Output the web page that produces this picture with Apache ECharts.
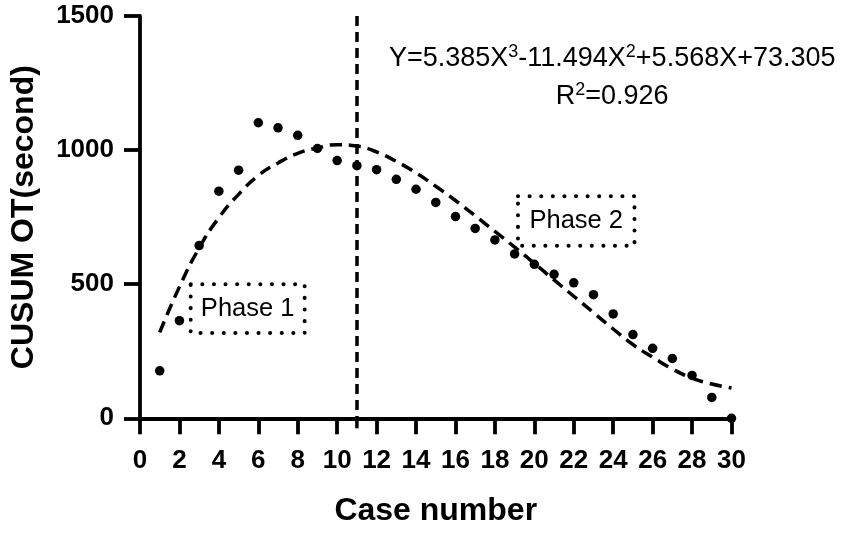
<!DOCTYPE html>
<html>
<head>
<meta charset="utf-8">
<script src="https://cdn.jsdelivr.net/npm/echarts@6/dist/echarts.min.js"></script>
<style>
  html, body { margin: 0; padding: 0; background: #fff; }
  #chart { width: 854px; height: 533px; }
</style>
</head>
<body>
<div id="chart"></div>
<script>
// case numbers and CUSUM values
const caseNo = [1, 2, 3, 4, 5, 6, 7, 8, 9, 10, 11, 12, 13, 14, 15, 16, 17, 18, 19, 20, 21, 22, 23, 24, 25, 26, 27, 28, 29, 30]
const cusum = [177, 364, 644, 847, 925, 1102, 1083, 1055, 1006, 961, 942, 927, 891, 854, 805, 752, 708, 665, 613, 574, 537, 505, 461, 389, 312, 261, 223, 160, 78, 0]
// fitted curve, read at each case number
const fitted = [320, 490, 635, 748, 835, 905, 952, 988, 1008, 1020, 1015, 993, 958, 915, 865, 812, 755, 697, 638, 578, 516, 455, 394, 333, 275, 228, 184, 150, 128, 113]

const cutCase = 11
const xTicks = { min: 0, max: 30, step: 2 }
const yTicks = { min: 0, max: 1500, step: 500 }

const phases = [
  { label: 'Phase 1', x0: 2.57, x1: 8.35, y0: 500, y1: 318 },
  { label: 'Phase 2', x0: 19.17, x1: 25.08, y0: 828, y1: 643 }
]

const font = '"Liberation Sans", Arial, Helvetica, sans-serif'
const axisCommon = {
  axisLine: { lineStyle: { color: '#000', width: 3.8 } },
  axisTick: { inside: false, length: 16, lineStyle: { color: '#000', width: 3.8 } },
  splitLine: { show: false },
  nameTextStyle: { color: '#000', fontFamily: font, fontWeight: 'bold', fontSize: 32 }
}

const chart = echarts.init(document.getElementById('chart'))

chart.setOption({
  animation: false,
  backgroundColor: '#fff',
  grid: { left: 133.5, right: 122.5, top: 16, bottom: 114.7 },
  xAxis: {
    ...axisCommon,
    type: 'value',
    min: xTicks.min,
    max: xTicks.max,
    interval: xTicks.step,
    name: 'Case number',
    nameLocation: 'middle',
    nameGap: 77,
    axisLabel: { color: '#000', fontFamily: font, fontWeight: 'bold', fontSize: 26, margin: 30 }
  },
  yAxis: {
    ...axisCommon,
    type: 'value',
    min: yTicks.min,
    max: yTicks.max,
    interval: yTicks.step,
    name: 'CUSUM OT(second)',
    nameLocation: 'middle',
    nameGap: 100,
    axisLabel: {
      color: '#000', fontFamily: font, fontWeight: 'bold', fontSize: 26, margin: 26,
      formatter: v => String(v)
    }
  },
  series: [
    {
      name: 'fit',
      type: 'line',
      smooth: true,
      showSymbol: false,
      clip: false,
      lineStyle: { color: '#000', width: 3.5, type: [12, 7] },
      data: caseNo.map((c, i) => [c, fitted[i]]),
      markLine: {
        silent: true,
        symbol: 'none',
        label: { show: false },
        lineStyle: { color: '#000', width: 3.5, type: [10, 6] },
        data: [[{ coord: [cutCase, yTicks.max] }, { coord: [cutCase, yTicks.min] }]]
      }
    },
    {
      name: 'CUSUM',
      type: 'scatter',
      clip: false,
      symbolSize: 9.5,
      itemStyle: { color: '#000', opacity: 1 },
      data: caseNo.map((c, i) => [c, cusum[i]])
    }
  ]
})

// annotations anchored to data coordinates
const px = (x, y) => chart.convertToPixel({ gridIndex: 0 }, [x, y])
const graphics = []
phases.forEach(p => {
  const a = px(p.x0, p.y0)
  const b = px(p.x1, p.y1)
  graphics.push({
    type: 'rect',
    shape: { x: a[0], y: a[1], width: b[0] - a[0], height: b[1] - a[1] },
    style: { fill: null, stroke: '#000', lineWidth: 4, lineDash: [0.1, 11.5], lineCap: 'round' }
  })
  graphics.push({
    type: 'text',
    x: (a[0] + b[0]) / 2,
    y: (a[1] + b[1]) / 2,
    style: { text: p.label, fill: '#000', font: '25.5px ' + font, align: 'center', verticalAlign: 'middle' }
  })
})

// dashed cut line continues through the tick area
const cutBottom = px(cutCase, yTicks.min)
graphics.push({
  type: 'line',
  shape: { x1: cutBottom[0], y1: cutBottom[1], x2: cutBottom[0], y2: cutBottom[1] + 16 },
  style: { stroke: '#000', lineWidth: 3.5, lineDash: [10, 6] }
})

const rich = {
  n: { fontSize: 27, fontFamily: font, lineHeight: 30, fill: '#000' },
  s: { fontSize: 18, fontFamily: font, lineHeight: 18, verticalAlign: 'top', fill: '#000' }
}
const eq = px(23.95, 1343)
const r2 = px(23.95, 1201)
graphics.push({
  type: 'text', x: eq[0], y: eq[1],
  style: {
    text: '{n|Y=5.385X}{s|3}{n|-11.494X}{s|2}{n|+5.568X+73.305}',
    rich, align: 'center', verticalAlign: 'middle'
  }
})
graphics.push({
  type: 'text', x: r2[0], y: r2[1],
  style: { text: '{n|R}{s|2}{n|=0.926}', rich, align: 'center', verticalAlign: 'middle' }
})
chart.setOption({ graphic: graphics })
</script>
</body>
</html>
